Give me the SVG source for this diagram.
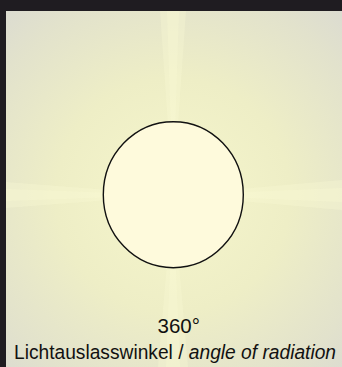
<svg xmlns="http://www.w3.org/2000/svg" width="342" height="367" viewBox="0 0 342 367">
<defs>
<radialGradient id="bg" cx="173" cy="195" r="260" gradientUnits="userSpaceOnUse">
<stop offset="0" stop-color="#f6f6cc"/>
<stop offset="0.45" stop-color="#eeeec6"/>
<stop offset="0.8" stop-color="#e2e2cc"/>
<stop offset="1" stop-color="#dadad2"/>
</radialGradient>
<style>
.band{fill:#f8f8d4;fill-opacity:0.35}
.t{font-family:"Liberation Sans",Arial,sans-serif;font-size:20.5px;fill:#111}
</style>
</defs>
<rect width="342" height="367" fill="#1f1c21"/>
<rect x="6" y="11" width="336" height="356" fill="url(#bg)"/>
<g id="rays">
<path class="band" d="M173,195 L160,11 L186,11 Z M173,195 L158,367 L188,367 Z M173,195 L6,182 L6,208 Z M173,195 L342,180 L342,210 Z"/>
<path class="band" d="M173,195 L167,11 L179,11 Z M173,195 L166,367 L180,367 Z M173,195 L6,189 L6,201 Z M173,195 L342,188 L342,202 Z"/>
</g>
<g id="lamp">
<ellipse cx="173.3" cy="194.7" rx="70" ry="73" fill="#fefadc" stroke="#111" stroke-width="1.4"/>
</g>
<g id="labels">
<text class="t" x="157.5" y="333.3">360°</text>
<text class="t" x="14" y="359" textLength="322" lengthAdjust="spacingAndGlyphs">Lichtauslasswinkel / <tspan font-style="italic">angle of radiation</tspan></text>
</g>
</svg>
